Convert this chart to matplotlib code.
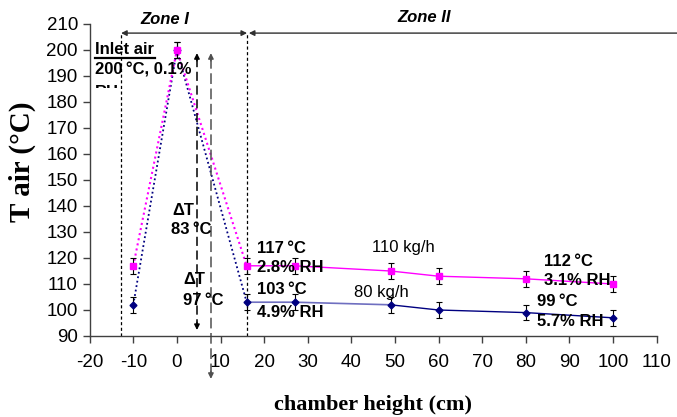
import matplotlib
matplotlib.use("Agg")
import matplotlib.pyplot as plt
from matplotlib.patches import Rectangle

plt.rcParams["font.family"] = ["Liberation Sans", "DejaVu Sans"]
plt.rcParams["axes.unicode_minus"] = False

# chamber height (cm) of each measuring point
height = [-10, 0, 16, 27, 49, 60, 80, 100]
# air temperature (°C) for the two air flow rates
t_110 = [117, 200, 117, 117, 115, 113, 112, 110]
t_80 = [102, 200, 103, 103, 102, 100, 99, 97]
t_err = 3

x_ticks = list(range(-20, 111, 10))
y_ticks = list(range(90, 211, 10))

PINK = "#FF00FF"
NAVY = "#000080"
NAVY_LIGHT = "#6F6FC0"

fig = plt.figure(figsize=(6.77, 4.17), dpi=100)
ax = fig.add_axes([89.7 / 677, 1 - 336 / 417, (656.5 - 89.7) / 677, (336 - 24) / 417])

# zone I: dotted connections to the inlet point
ax.plot(height[:3], t_80[:3], ls=(0, (1, 1.5)), color=NAVY, lw=1.3)
ax.plot(height[:3], t_110[:3], ls=(0, (1, 1.5)), color=PINK, lw=1.5)

# zone II: solid lines
ax.plot(height[2:5], t_80[2:5], color=NAVY_LIGHT, lw=1.2)
ax.plot(height[4:], t_80[4:], color=NAVY, lw=1.0)
ax.plot(height[2:], t_110[2:], color=PINK, lw=1.0)

# measurement points with error bars
ax.errorbar(height, t_80, yerr=t_err, fmt="D", color=NAVY, ms=3.5,
            ecolor="black", elinewidth=0.8, capsize=2.3, capthick=0.8, lw=0)
ax.errorbar(height, t_110, yerr=t_err, fmt="s", color=PINK, ms=5,
            ecolor="black", elinewidth=0.8, capsize=2.3, capthick=0.8, lw=0)

ax.set_xlim(-20, 110)
ax.set_ylim(90, 210)
ax.set_xticks(x_ticks)
ax.set_yticks(y_ticks)
for s in ("top", "right"):
    ax.spines[s].set_visible(False)
for s in ("left", "bottom"):
    ax.spines[s].set_color("#404040")
    ax.spines[s].set_linewidth(1.0)
ax.tick_params(axis="both", direction="out", length=5, width=1.0,
               color="#404040", labelsize=13.5)
ax.tick_params(axis="x", pad=8)

# zone boundaries
zone_y = 206.5
z1_left, z_split = -12.8, 16.1
for xv in (z1_left, z_split):
    ax.plot([xv, xv], [90, zone_y], ls=(0, (2.5, 2)), color="black", lw=0.9,
            clip_on=False)
ax.annotate("", xy=(z1_left, zone_y), xytext=(z_split, zone_y),
            arrowprops=dict(arrowstyle="<|-|>", color="#303030", lw=1.0,
                            mutation_scale=8, shrinkA=0, shrinkB=0),
            annotation_clip=False)
ax.annotate("", xy=(z_split + 0.4, zone_y), xytext=(114.8, zone_y),
            arrowprops=dict(arrowstyle="-|>", color="#303030", lw=1.0,
                            mutation_scale=8, shrinkA=0, shrinkB=0),
            annotation_clip=False)
ax.text(-2.7, 211.6, "Zone I", fontsize=12, fontweight="bold", style="italic",
        ha="center", va="center", clip_on=False)
ax.text(56.7, 212.6, "Zone II", fontsize=12, fontweight="bold", style="italic",
        ha="center", va="center", clip_on=False)


def dashed_arrow(x, y_top, y_bot, color, dashes):
    ax.plot([x, x], [y_top - 2, y_bot + 2], ls=(0, dashes), color=color, lw=1.1,
            clip_on=False)
    for tip, tail in ((y_top, y_top - 3), (y_bot, y_bot + 3)):
        ax.annotate("", xy=(x, tip), xytext=(x, tail),
                    arrowprops=dict(arrowstyle="-|>", color=color, lw=1.0,
                                    mutation_scale=8, shrinkA=0, shrinkB=0),
                    annotation_clip=False)


# temperature drop indicators
dashed_arrow(4.6, 198.8, 92.3, "black", (6, 3))
dashed_arrow(7.8, 198.8, 73.5, "#505050", (7, 3))

bold = dict(fontsize=12, fontweight="bold", va="center", ha="left")
norm = dict(fontsize=12, va="center", ha="left")

ax.text(-18.8, 200.0, "Inlet air", **bold)
ax.plot([-18.8, -5.0], [196.9, 196.9], color="black", lw=1.6, clip_on=False)
ax.text(-18.8, 192.3, "200\u2009°C, 0.1%", **bold)
rh = ax.text(-18.8, 183.6, "RH", clip_on=True, **bold)
rh.set_clip_path(Rectangle((-20, 185.3), 30, 30, transform=ax.transData))

ax.text(-1.1, 138.1, "ΔT", **bold)
ax.text(-1.35, 130.8, "83\u2009°C", **bold)
ax.text(1.4, 111.9, "ΔT", **bold)
ax.text(1.4, 103.8, "97\u2009°C", **bold)

ax.text(18.4, 123.8, "117\u2009°C", **bold)
ax.text(18.4, 116.2, "2.8% RH", **bold)
ax.text(18.4, 107.7, "103\u2009°C", **bold)
ax.text(18.4, 99.2, "4.9% RH", **bold)

ax.text(44.7, 124.2, "110 kg/h", **norm)
ax.text(40.6, 106.9, "80 kg/h", **norm)

ax.text(84.2, 118.8, "112\u2009°C", **bold)
ax.text(84.2, 111.2, "3.1% RH", **bold)
ax.text(82.6, 103.1, "99\u2009°C", **bold)
ax.text(82.6, 95.4, "5.7% RH", **bold)

serif = ["Liberation Serif", "DejaVu Serif"]
fig.text(22 / 677, 1 - 162 / 417, "T air (°C)", rotation=90, fontsize=21,
         fontweight="bold", family=serif, ha="center", va="center")
fig.text(373 / 677, 1 - 410 / 417, "chamber height (cm)", fontsize=16,
         fontweight="bold", family=serif, ha="center", va="baseline")

fig.savefig("out.png", dpi=100)
